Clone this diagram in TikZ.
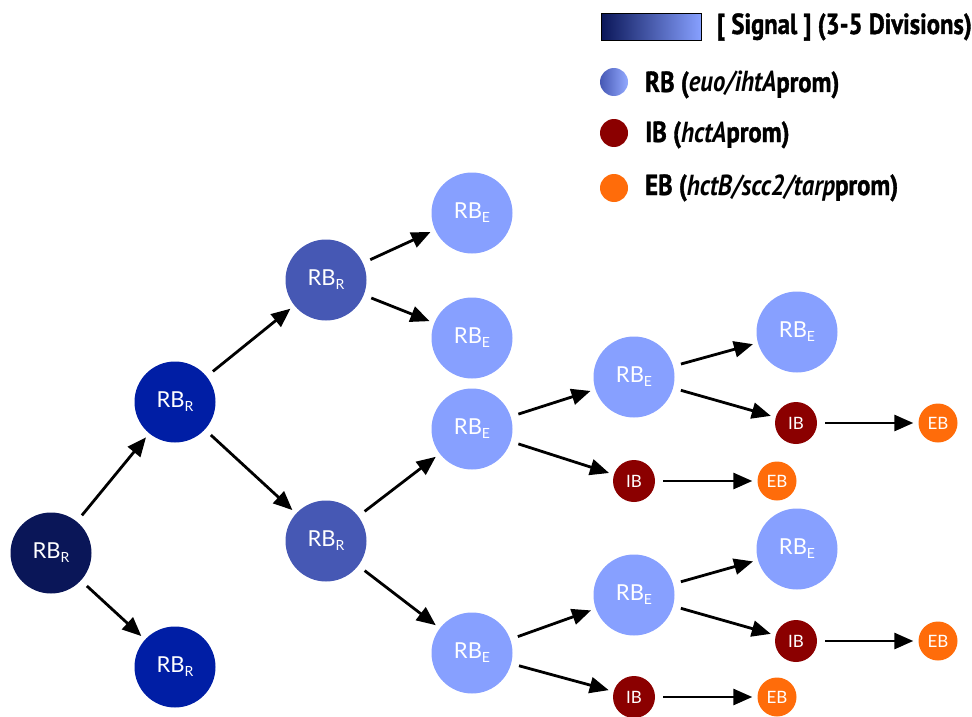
\documentclass[tikz,border=0pt]{standalone}
\usepackage{fontspec}
\setmainfont{Lato}
\newfontfamily\legendfont[FakeStretch=0.85, BoldFeatures={FakeBold=1.3}]{PT Sans}
\usepackage{tikz}
\usetikzlibrary{arrows.meta}

\definecolor{rbzero}{RGB}{10,22,88}
\definecolor{rbone}{RGB}{0,30,165}
\definecolor{rbtwo}{RGB}{70,88,180}
\definecolor{rbearly}{RGB}{135,160,255}
\definecolor{ibred}{RGB}{139,0,0}
\definecolor{eborange}{RGB}{255,108,10}

\newcommand{\rblabel}[1]{RB\raisebox{-0.35ex}{\fontsize{14}{14}\selectfont #1}}

\tikzset{
  cell/.style={circle, inner sep=0pt, text=white},
  rbcell/.style={cell, minimum size=81pt, font=\fontsize{22}{22}\selectfont},
  ibcell/.style={cell, fill=ibred, minimum size=42pt, font=\fontsize{17}{17}\selectfont},
  ebcell/.style={cell, fill=eborange, minimum size=39pt, font=\fontsize{17}{17}\selectfont},
  division/.style={line width=2.8pt, -{Triangle[length=19pt,width=16pt]}, shorten <=8pt, shorten >=5pt},
  legendtext/.style={anchor=base west, inner sep=0pt, font=\legendfont\bfseries\fontsize{29}{29}\selectfont}
}

\begin{document}
\begin{tikzpicture}[x=1pt, y=-1pt]
\useasboundingbox (0,0) rectangle (972,717);

% legend
\shade[left color=rbzero, right color=rbearly, draw=black, line width=1pt] (601,14) rectangle (701,41);
\node[legendtext] (sigtext) at (717,34) {[ Signal ] (3-5 Divisions)};
\shade[left color=rbtwo, right color=rbearly!90!white] (614,82) circle (14);
\node[legendtext] (rbtext) at (645,92) {RB (\textit{euo/ihtA}prom)};
\fill[ibred] (614,133) circle (14);
\node[legendtext] (ibtext) at (645,142) {IB (\textit{hctA}prom)};
\fill[eborange] (614,188) circle (14);
\node[legendtext] (ebtext) at (645,195) {EB (\textit{hctB/scc2/tarp}prom)};

% replicating RBs
\node[rbcell, fill=rbzero] (r0) at (51,553) {\rblabel{R}};
\node[rbcell, fill=rbone] (r1a) at (175,402) {\rblabel{R}};
\node[rbcell, fill=rbone] (r1b) at (175,667) {\rblabel{R}};
\node[rbcell, fill=rbtwo] (r2a) at (326,280) {\rblabel{R}};
\node[rbcell, fill=rbtwo] (r2b) at (326,541) {\rblabel{R}};

% early RBs
\node[rbcell, fill=rbearly] (e1) at (472,213) {\rblabel{E}};
\node[rbcell, fill=rbearly] (e2) at (472,338) {\rblabel{E}};
\node[rbcell, fill=rbearly] (e3) at (472,429) {\rblabel{E}};
\node[rbcell, fill=rbearly] (e4) at (472,653) {\rblabel{E}};
\node[rbcell, fill=rbearly] (e5) at (634,377) {\rblabel{E}};
\node[rbcell, fill=rbearly] (e6) at (797,332) {\rblabel{E}};
\node[rbcell, fill=rbearly] (e7) at (634,595) {\rblabel{E}};
\node[rbcell, fill=rbearly] (e8) at (797,549) {\rblabel{E}};

% IBs and EBs
\node[ibcell] (ib1) at (634,481) {IB};
\node[ebcell] (eb1) at (777,481) {EB};
\node[ibcell] (ib2) at (796,423) {IB};
\node[ebcell] (eb2) at (938,423) {EB};
\node[ibcell] (ib3) at (634,697) {IB};
\node[ebcell] (eb3) at (777,697) {EB};
\node[ibcell] (ib4) at (796,641) {IB};
\node[ebcell] (eb4) at (938,641) {EB};

% divisions
\draw[division] (r0) -- (r1a);
\draw[division] (r0) -- (r1b);
\draw[division] (r1a) -- (r2a);
\draw[division] (r1a) -- (r2b);
\draw[division] (r2a) -- (e1);
\draw[division] (r2a) -- (e2);
\draw[division] (r2b) -- (e3);
\draw[division] (r2b) -- (e4);
\draw[division] (e3) -- (e5);
\draw[division] (e3) -- (ib1);
\draw[division] (e5) -- (e6);
\draw[division] (e5) -- (ib2);
\draw[division] (e4) -- (e7);
\draw[division] (e4) -- (ib3);
\draw[division] (e7) -- (e8);
\draw[division] (e7) -- (ib4);
\draw[division] (ib1) -- (eb1);
\draw[division] (ib2) -- (eb2);
\draw[division] (ib3) -- (eb3);
\draw[division] (ib4) -- (eb4);
\end{tikzpicture}
\end{document}
